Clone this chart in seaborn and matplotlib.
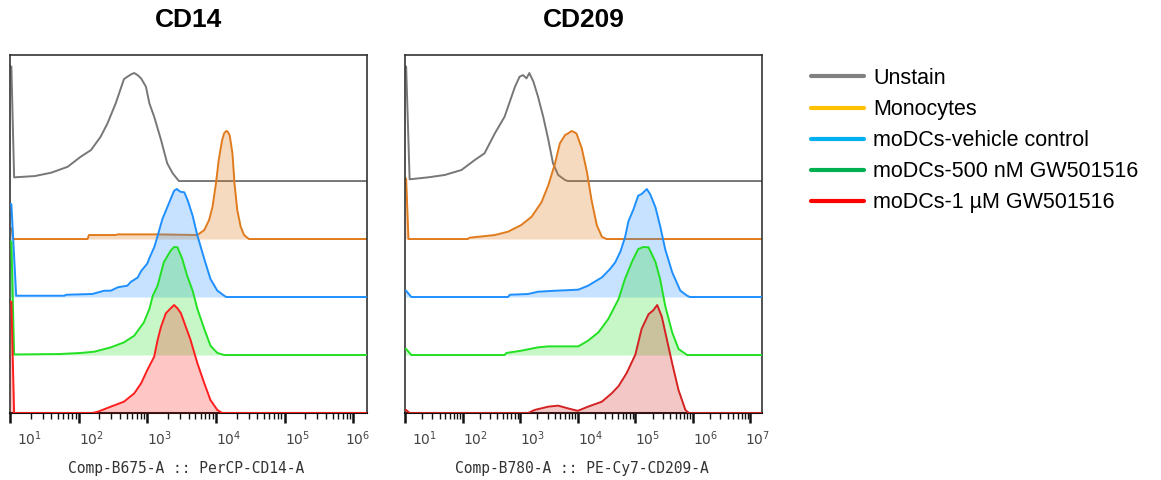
import numpy as np
import pandas as pd
import matplotlib
matplotlib.use("Agg")
import matplotlib.pyplot as plt
import matplotlib.transforms as mtransforms
from matplotlib.lines import Line2D
from matplotlib.ticker import LogLocator, NullFormatter
import seaborn as sns

# ---------------- data ----------------
samples = ["Unstain", "Monocytes", "moDCs-vehicle control",
           "moDCs-500 nM GW501516", "moDCs-1 µM GW501516"]
panel_titles = ["CD14", "CD209"]
axis_labels = ["Comp-B675-A :: PerCP-CD14-A", "Comp-B780-A :: PE-Cy7-CD209-A"]
cd14_decades = [1, 2, 3, 4, 5, 6]
cd209_decades = [1, 2, 3, 4, 5, 6, 7]

# CD14 histograms: log10 intensity and % of mode
cd14_unstain_log = [1.0, 1.02, 1.06, 1.36, 1.60, 1.84, 2.03, 2.18, 2.32, 2.42, 2.54, 2.66, 2.72, 2.77, 2.81,
                    2.86, 2.91, 2.98, 3.03, 3.10, 3.20, 3.29, 3.37, 3.46]
cd14_unstain_pct = [106, 106, 3.4, 4.6, 7.7, 13.2, 22.5, 28.7, 41, 53.4, 72, 94.4, 97, 99, 100,
                    98, 95, 87.3, 72, 59.5, 38, 16.4, 7.1, 0]
cd14_mono_log = [1.0, 1.02, 1.05, 2.13, 2.15, 2.54, 2.57, 3.15, 3.73, 3.83, 3.90, 3.95, 4.00, 4.04,
                 4.09, 4.12, 4.15, 4.17, 4.20, 4.24, 4.27, 4.31, 4.36, 4.41, 4.48]
cd14_mono_pct = [10, 10, 0, 0, 3.7, 3.7, 4.3, 4.3, 3.7, 8.3, 17.6, 29.9, 51.5, 73.1,
                 91.7, 98, 100, 99.5, 96, 79.3, 51.5, 26.9, 11.4, 3.7, 0]
cd14_vehicle_log = [1.0, 1.02, 1.09, 1.79, 1.82, 2.20, 2.37, 2.47, 2.57, 2.71, 2.76, 2.86, 2.91, 3.00,
                    3.03, 3.10, 3.12, 3.22, 3.32, 3.39, 3.43, 3.48, 3.54, 3.59, 3.66, 3.73, 3.83,
                    3.92, 4.02, 4.12, 4.15]
cd14_vehicle_pct = [86, 86, 1.2, 1.2, 2.1, 2.8, 5.8, 5.9, 9.0, 10.5, 14, 18, 24, 31,
                    36, 46, 50, 72.2, 87.6, 98.4, 100, 97.5, 96.9, 89.2, 75.3, 56.8, 35.2,
                    16.7, 5.9, 1.2, 0]
cd14_gw500_log = [1.0, 1.02, 1.06, 1.72, 2.03, 2.23, 2.47, 2.66, 2.81, 2.95, 3.03, 3.08, 3.15, 3.24,
                  3.34, 3.39, 3.44, 3.51, 3.58, 3.66, 3.73, 3.83, 3.92, 4.02, 4.12]
cd14_gw500_pct = [105, 105, 0.5, 0.9, 1.9, 3.1, 7.1, 11.7, 17.9, 30.2, 42.6, 54.9, 64.2, 85.8,
                  96.6, 100, 99.7, 88.9, 73.5, 59.6, 42.6, 24.1, 8.6, 1.9, 0]
cd14_gw1_log = [1.0, 1.02, 1.06, 2.20, 2.28, 2.47, 2.66, 2.81, 2.91, 3.00, 3.10, 3.15, 3.20, 3.27,
                3.34, 3.39, 3.44, 3.49, 3.56, 3.63, 3.73, 3.83, 3.92, 4.02, 4.09]
cd14_gw1_pct = [103, 103, 0, 0, 1.2, 5.9, 10.5, 18.2, 27.5, 39.8, 52.1, 67.6, 79.9, 92.3,
                96.9, 100, 96.9, 92.3, 79.9, 67.6, 46, 27.5, 12, 2.8, 0]

# CD209 histograms
cd209_unstain_log = [1.0, 1.02, 1.08, 1.40, 1.69, 1.98, 2.21, 2.38, 2.56, 2.73, 2.85, 2.91, 2.99, 3.05,
                     3.11, 3.16, 3.23, 3.31, 3.40, 3.49, 3.57, 3.66, 3.78, 3.83]
cd209_unstain_pct = [106, 106, 1.6, 3.4, 5.6, 10.2, 19.4, 25.6, 44.1, 59.6, 78.1, 87.3, 96.6, 98.1,
                     95.1, 100, 92, 78.1, 59.6, 38, 16.4, 5.6, 0.9, 0]
cd209_mono_log = [1.0, 1.02, 1.06, 2.09, 2.12, 2.56, 2.79, 3.02, 3.20, 3.37, 3.49, 3.60, 3.69, 3.78,
                  3.84, 3.89, 3.94, 3.98, 4.07, 4.16, 4.24, 4.33, 4.42, 4.50]
cd209_mono_pct = [56, 56, 0, 0, 1.2, 3.7, 6.8, 13, 20.7, 34, 50, 69, 88.6, 96.3,
                  98, 100, 99, 97.5, 84, 62, 36, 13, 2, 0]
cd209_vehicle_log = [1.0, 1.02, 1.11, 2.79, 2.82, 3.14, 3.31, 3.60, 4.01, 4.18, 4.42, 4.56, 4.65, 4.74,
                     4.82, 4.88, 4.97, 5.05, 5.11, 5.20, 5.26, 5.35, 5.43, 5.52, 5.64, 5.78, 5.90, 5.95]
cd209_vehicle_pct = [5.8, 5.8, 0, 0, 2.1, 2.8, 4.9, 5.8, 6.8, 10.5, 18.2, 25.9, 32, 42,
                     55, 70, 81.5, 93.8, 95.4, 100, 95, 83, 66, 44, 23, 6, 1.2, 0]
cd209_gw500_log = [1.0, 1.02, 1.11, 2.73, 2.76, 3.02, 3.31, 3.49, 4.01, 4.18, 4.36, 4.53, 4.71, 4.82,
                   4.94, 5.05, 5.14, 5.23, 5.35, 5.43, 5.52, 5.64, 5.75, 5.90]
cd209_gw500_pct = [5.6, 5.6, 0, 0, 1.9, 4, 7.1, 8, 8, 13.3, 21, 33.3, 51.9, 70.4,
                   86.1, 98.1, 100, 99.7, 86.1, 70.4, 45.4, 21, 5.6, 0]
cd209_gw1_log = [1.0, 1.02, 1.08, 3.14, 3.25, 3.49, 3.66, 3.83, 4.00, 4.18, 4.42, 4.59, 4.71, 4.85,
                 5.00, 5.11, 5.23, 5.31, 5.38, 5.46, 5.55, 5.64, 5.75, 5.87, 5.93]
cd209_gw1_pct = [2.8, 2.8, 0, 0, 2.8, 5.9, 6.8, 4.3, 2.0, 5.9, 10.5, 18.2, 25, 37,
                 54, 78, 91.5, 95, 100, 89.2, 67.6, 46, 21.3, 2.8, 0]

# ---------------- style ----------------
sns.set_theme(style="white")
plt.rcParams["font.family"] = ["Liberation Sans", "DejaVu Sans"]

line_colors = {
    "CD14": ["#555555", "#E07B1E", "#1E8FFF", "#22E022", "#FF1E1E"],
    "CD209": ["#555555", "#E07B1E", "#1E8FFF", "#22E022", "#D42222"],
}
legend_colors = ["#808080", "#FFC000", "#00B0F0", "#00B050", "#FF0000"]
fill_alpha = [0.0, 0.28, 0.25, 0.25, 0.25]

row_step = 53.7          # vertical offset between rows, in % of mode
y_top = 331.5
xlims = {"CD14": (1.0, 6.2), "CD209": (1.0, 7.2)}


def build_frame(logs, pcts):
    rows = []
    for i, (s, lg, pc) in enumerate(zip(samples, logs, pcts)):
        base = (len(samples) - 1 - i) * row_step
        for a, b in zip(lg, pc):
            rows.append({"sample": s, "x": 10 ** a, "y": base + b, "base": base})
    return pd.DataFrame(rows)


frames = {
    "CD14": build_frame([cd14_unstain_log, cd14_mono_log, cd14_vehicle_log, cd14_gw500_log, cd14_gw1_log],
                        [cd14_unstain_pct, cd14_mono_pct, cd14_vehicle_pct, cd14_gw500_pct, cd14_gw1_pct]),
    "CD209": build_frame([cd209_unstain_log, cd209_mono_log, cd209_vehicle_log, cd209_gw500_log, cd209_gw1_log],
                         [cd209_unstain_pct, cd209_mono_pct, cd209_vehicle_pct, cd209_gw500_pct, cd209_gw1_pct]),
}
decades = {"CD14": cd14_decades, "CD209": cd209_decades}

W, H = 1161, 480
fig = plt.figure(figsize=(W / 100, H / 100), dpi=100)
axes = [fig.add_axes([10 / W, 67 / H, 357 / W, 358 / H]),
        fig.add_axes([405 / W, 67 / H, 357 / W, 358 / H])]

for k, (ax, title, xlab) in enumerate(zip(axes, panel_titles, axis_labels)):
    df = frames[title]
    x0, x1 = 10 ** xlims[title][0], 10 ** xlims[title][1]
    for i, s in enumerate(samples):
        d = df[df["sample"] == s]
        base = d["base"].iloc[0]
        # extend the flat baseline to the right edge of the plot
        ext = pd.concat([d, pd.DataFrame({"sample": [s], "x": [x1], "y": [base], "base": [base]})])
        col = line_colors[title][i]
        if fill_alpha[i] > 0:
            ax.fill_between(ext["x"], base, ext["y"], color=col, alpha=fill_alpha[i],
                            linewidth=0, zorder=1 + i)
        sns.lineplot(data=ext, x="x", y="y", color=col, linewidth=1.4, estimator=None,
                     sort=False, ax=ax, legend=False, zorder=1.5 + i,
                     alpha=0.8 if i == 0 else 1.0)
    ax.set_xscale("log")
    ax.set_xlim(x0, x1)
    ax.set_ylim(0, y_top)
    ax.set_xlabel("")
    ax.set_ylabel("")
    ax.set_yticks([])
    dec = decades[title]
    ax.set_xticks([10 ** d for d in dec])
    ax.set_xticklabels([f"$10^{{{d}}}$" for d in dec])
    ax.xaxis.set_minor_locator(LogLocator(base=10, subs=np.arange(2, 10), numticks=50))
    ax.xaxis.set_minor_formatter(NullFormatter())
    ax.tick_params(axis="x", which="major", direction="out", length=7, width=1.8,
                   color="#111111", pad=5, labelsize=10, labelcolor="#444444", bottom=True)
    ax.tick_params(axis="x", which="minor", direction="out", length=4, width=1.0,
                   color="#111111", bottom=True)
    for sp in ["top", "left", "right"]:
        ax.spines[sp].set_color("#333333")
        ax.spines[sp].set_linewidth(1.2)
    ax.spines["bottom"].set_color("#111111")
    ax.spines["bottom"].set_linewidth(1.5)
    labels = ax.get_xticklabels()
    for j, lab in enumerate(labels):
        lab.set_ha("left")
        dx = 0
        if j == 0:
            dx = 7
        elif j == len(labels) - 1:
            dx = -8 if title == "CD14" else -5
        if dx:
            lab.set_transform(lab.get_transform() + mtransforms.ScaledTranslation(dx / 100, 0, fig.dpi_scale_trans))
    cx = (ax.get_position().x0 + ax.get_position().x1) / 2
    fig.text(cx, 1 - 20 / H, title, ha="center", va="center", fontsize=19, fontweight="bold",
             color="#000000")
    fig.text(cx - 2 / W, 1 - 468 / H, xlab, ha="center", va="center", fontsize=10.5,
             family=["DejaVu Sans Mono"], color="#333333")

handles = [Line2D([0], [0], color=c, linewidth=3) for c in legend_colors]
leg = fig.legend(handles, samples, loc="upper left", bbox_to_anchor=(811 / W, 1 - 68 / H),
                 frameon=False, fontsize=15.5, handlelength=2.45, handletextpad=0.45,
                 labelspacing=0.47, borderpad=0, borderaxespad=0)
for t in leg.get_texts():
    t.set_color("#000000")

fig.savefig("out.png", dpi=100)
